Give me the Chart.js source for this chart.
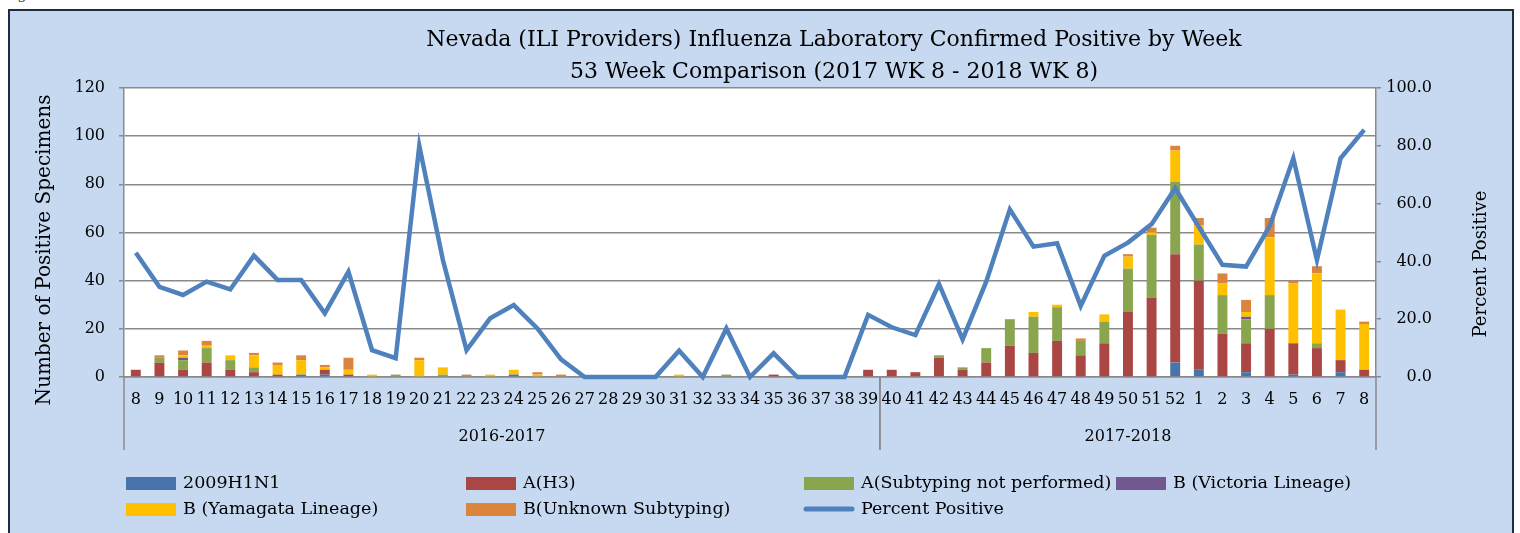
<!DOCTYPE html>
<html><head><meta charset="utf-8">
<script src="https://cdn.jsdelivr.net/npm/chart.js@4.4.1/dist/chart.umd.min.js"></script>
<style>
html,body{margin:0;padding:0;background:#fff;width:1520px;height:533px;overflow:hidden;position:relative;}
#fig{position:absolute;left:2px;top:-15px;font:15px 'DejaVu Serif',serif;color:#333;}
#frame{position:absolute;left:8px;top:9px;width:1502px;height:540px;background:#c6d9f1;border:2px solid #1f2c3f;}
#wrap{position:absolute;left:0;top:0;width:1520px;height:533px;}
</style></head><body>
<div id="fig">Figure 3</div>
<div id="frame"></div>
<div id="wrap"><canvas id="c" width="1520" height="533"></canvas></div>
<script>
const weeks = ['8','9','10','11','12','13','14','15','16','17','18','19','20','21','22','23','24','25','26','27','28','29','30','31','32','33','34','35','36','37','38','39','40','41','42','43','44','45','46','47','48','49','50','51','52','1','2','3','4','5','6','7','8'];
const seasons = ['2016-2017','2017-2018'];
const seasonFirstWeek = [0, 32];
const titleLines = ['Nevada (ILI Providers) Influenza Laboratory Confirmed Positive by Week','53 Week Comparison (2017 WK 8 - 2018 WK 8)'];
const yTitle = 'Number of Positive Specimens';
const y1Title = 'Percent Positive';

const h1n1     = [0,0,0,0,0,0,0,1,1,0, 0,0,0,0,0,0,1,0,0,0, 0,0,0,0,0,0,0,0,0,0, 0,0,0,0,0,0,0,0,0,0, 0,0,0,0,6,3,0,2,0,1, 0,2,0];
const h3       = [3,6,3,6,3,2,1,0,2,1, 0,0,0,0,0,0,0,0,0,0, 0,0,0,0,0,0,0,1,0,0, 0,3,3,2,8,3,6,13,10,15, 9,14,27,33,45,37,18,12,20,13, 12,5,3];
const aNotSub  = [0,2,4,6,4,2,0,0,0,0, 0,1,0,1,0,0,0,0,0,0, 0,0,0,0,0,1,0,0,0,0, 0,0,0,0,1,1,6,11,15,14, 6,9,18,26,30,15,16,10,14,0, 2,0,0];
const victoria = [0,0,1,0,0,0,0,0,0,0, 0,0,0,0,0,0,0,0,0,0, 0,0,0,0,0,0,0,0,0,0, 0,0,0,0,0,0,0,0,0,0, 0,0,0,0,0,0,0,1,0,0, 0,0,0];
const yamagata = [0,0,1,1,2,5,4,6,1,2, 1,0,7,3,0,1,2,1,0,0, 0,0,0,1,0,0,0,0,0,0, 0,0,0,0,0,0,0,0,2,1, 0,3,5,1,13,8,5,2,24,25, 29,21,19];
const bUnknown = [0,1,2,2,0,1,1,2,1,5, 0,0,1,0,1,0,0,1,1,0, 0,0,0,0,0,0,0,0,0,0, 0,0,0,0,0,0,0,0,0,0, 1,0,1,2,2,3,4,5,8,1, 3,0,1];
const pctPositive = [43.0,31.2,28.4,33.0,30.3,42.0,33.6,33.6,22.0,36.4, 9.3,6.5,80.0,40.5,9.3,20.3,24.9,16.8,6.1,0, 0,0,0,9.1,0,16.8,0,8.2,0,0, 0,21.5,17.2,14.5,32.2,13.0,33.0,58.0,45.1,46.3, 24.6,41.9,46.5,52.9,65.3,52.0,38.8,38.2,52.2,75.7, 40.5,75.7,85.5];

const FONT = "'DejaVu Serif', serif";
const GRID = '#8a8a8a';

const barDs = (label, data, color) => ({type:'bar', label, data, backgroundColor:color, borderWidth:0, barPercentage:0.42, categoryPercentage:1, yAxisID:'y', order:1});

const overlay = {
  id:'overlay',
  beforeDraw(chart){
    const {ctx, chartArea:a} = chart;
    ctx.save(); ctx.fillStyle='#fff'; ctx.fillRect(a.left,a.top,a.right-a.left,a.bottom-a.top); ctx.restore();
  },
  afterDraw(chart){
    const ctx = chart.ctx, x = chart.scales.x, a = chart.chartArea;
    ctx.save();
    ctx.fillStyle='#000'; ctx.textAlign='center'; ctx.textBaseline='middle';
    ctx.font = '22px ' + FONT;
    titleLines.forEach((t,i)=>ctx.fillText(t, 834, 40 + i*32));
    ctx.font = '20px ' + FONT;
    ctx.save(); ctx.translate(45,250); ctx.rotate(-Math.PI/2); ctx.fillText(yTitle,0,0); ctx.restore();
    ctx.font = '18px ' + FONT;
    ctx.save(); ctx.translate(1481,264); ctx.rotate(-Math.PI/2); ctx.fillText(y1Title,0,0); ctx.restore();
    // season groups
    ctx.font = '16px ' + FONT;
    const half = (x.getPixelForValue(1) - x.getPixelForValue(0)) / 2;
    ctx.strokeStyle = GRID; ctx.lineWidth = 1.5;
    seasonFirstWeek.forEach((s,i)=>{
      const e = i+1 < seasonFirstWeek.length ? seasonFirstWeek[i+1]-1 : weeks.length-1;
      const l = x.getPixelForValue(s) - half, r = x.getPixelForValue(e) + half;
      ctx.fillText(seasons[i], (l+r)/2, 437);
      [l, r].forEach(px=>{ ctx.beginPath(); ctx.moveTo(px, a.bottom); ctx.lineTo(px, 450); ctx.stroke(); });
    });
    // legend
    ctx.font = '17.5px ' + FONT;
    const cols = [126,466,804,1116], rows = [483,509];
    ctx.textAlign='left';
    chart.data.datasets.forEach((ds,i)=>{
      const cx = cols[i%4], cy = rows[Math.floor(i/4)];
      if (ds.type === 'line') {
        ctx.strokeStyle = ds.borderColor; ctx.lineWidth = 5; ctx.lineCap='round';
        ctx.beginPath(); ctx.moveTo(cx+2, cy); ctx.lineTo(cx+48, cy); ctx.stroke();
      } else {
        ctx.fillStyle = ds.backgroundColor; ctx.fillRect(cx, cy-6, 50, 13);
      }
      ctx.fillStyle = '#000';
      ctx.fillText(ds.label, cx+57, cy);
    });
    ctx.restore();
  }
};

new Chart(document.getElementById('c'), {
  type:'bar',
  data:{
    labels: weeks,
    datasets:[
      barDs('2009H1N1', h1n1, '#4674ab'),
      barDs('A(H3)', h3, '#aa4643'),
      barDs('A(Subtyping not performed)', aNotSub, '#89a54e'),
      barDs('B (Victoria Lineage)', victoria, '#71588f'),
      barDs('B (Yamagata Lineage)', yamagata, '#ffc000'),
      barDs('B(Unknown Subtyping)', bUnknown, '#db843d'),
      {type:'line', label:'Percent Positive', data:pctPositive, yAxisID:'y1', borderColor:'#4f81bd', backgroundColor:'#4f81bd', borderWidth:4.5, pointRadius:0, tension:0, clip:false, order:0}
    ]
  },
  options:{
    responsive:false, animation:false,
    layout:{padding:{top:88,left:0,right:88,bottom:0}},
    plugins:{legend:{display:false}, title:{display:false}, tooltip:{enabled:false}},
    scales:{
      x:{stacked:true, grid:{display:false, drawTicks:false}, border:{color:GRID, width:1.5},
         ticks:{font:{family:FONT,size:16}, color:'#000', padding:13, autoSkip:false, maxRotation:0, minRotation:0},
         afterFit(s){ s.height = 156; }},
      y:{stacked:true, min:0, max:120, position:'left',
         ticks:{stepSize:20, font:{family:FONT,size:16}, color:'#000', padding:14},
         grid:{color:GRID, lineWidth:1.5, tickLength:5}, border:{color:GRID, width:1.5},
         afterFit(s){ s.width = 124; }},
      y1:{position:'right', min:0, max:100,
         ticks:{stepSize:20, callback:v=>v.toFixed(1), font:{family:FONT,size:16}, color:'#000', padding:5, crossAlign:'far'},
         grid:{drawOnChartArea:false, color:GRID, lineWidth:1.5, tickLength:5}, border:{color:GRID, width:1.5},
         afterFit(s){ s.width = 56; }}
    }
  },
  plugins:[overlay]
});
</script>
</body></html>
